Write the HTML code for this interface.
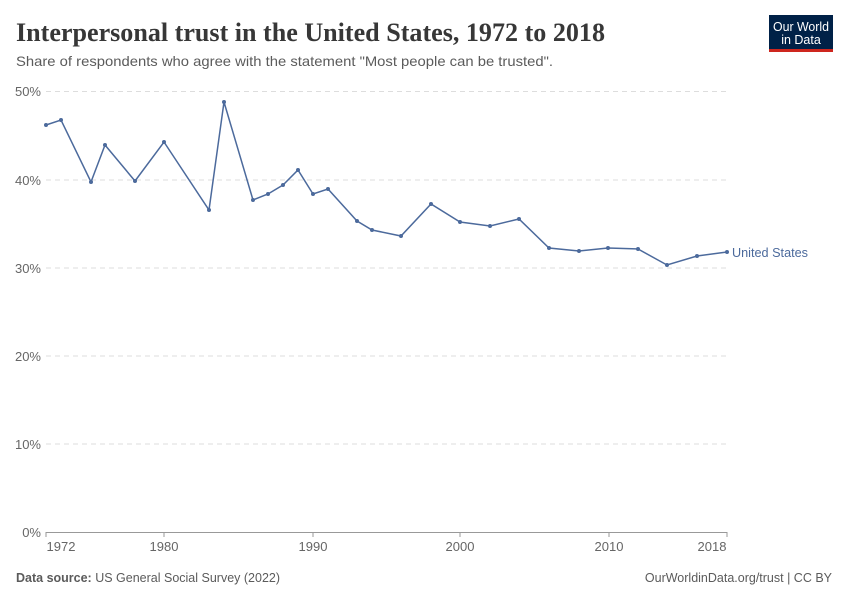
<!DOCTYPE html>
<html><head><meta charset="utf-8"><style>
body{margin:0;background:#fff;width:850px;height:600px;overflow:hidden;font-family:"Liberation Sans",sans-serif}
</style></head><body>
<svg width="850" height="600" xmlns="http://www.w3.org/2000/svg">
<text x="16" y="41" font-family="Liberation Serif,serif" font-size="26" font-weight="bold" fill="#373737" textLength="589" lengthAdjust="spacingAndGlyphs">Interpersonal trust in the United States, 1972 to 2018</text>
<text x="16" y="66" font-size="14" fill="#5b5b5b" textLength="537" lengthAdjust="spacingAndGlyphs">Share of respondents who agree with the statement "Most people can be trusted".</text>
<rect x="769" y="15" width="64" height="34" fill="#002147"/>
<rect x="769" y="49" width="64" height="3" fill="#ce261e"/>
<text x="801" y="31" font-size="12.5" fill="#fff" text-anchor="middle" textLength="56" lengthAdjust="spacingAndGlyphs">Our World</text>
<text x="801" y="44" font-size="12.5" fill="#fff" text-anchor="middle">in Data</text>
<g stroke="#ddd" stroke-dasharray="5,4" stroke-width="1">
<line x1="46" x2="727" y1="91.5" y2="91.5"/><line x1="46" x2="727" y1="180" y2="180"/><line x1="46" x2="727" y1="268" y2="268"/><line x1="46" x2="727" y1="356" y2="356"/><line x1="46" x2="727" y1="444" y2="444"/>
</g>
<line x1="46" x2="727" y1="532.5" y2="532.5" stroke="#999"/>
<g font-size="13" fill="#666" text-anchor="end">
<text x="41" y="96">50%</text><text x="41" y="185">40%</text><text x="41" y="273">30%</text><text x="41" y="361">20%</text><text x="41" y="449">10%</text><text x="41" y="537">0%</text>
</g>
<g stroke="#999"><line x1="46" x2="46" y1="532" y2="537"/><line x1="164" x2="164" y1="532" y2="537"/><line x1="313" x2="313" y1="532" y2="537"/><line x1="460" x2="460" y1="532" y2="537"/><line x1="609" x2="609" y1="532" y2="537"/><line x1="727" x2="727" y1="532" y2="537"/></g>
<g font-size="13" fill="#666" text-anchor="middle">
<text x="61" y="551">1972</text><text x="164" y="551">1980</text><text x="313" y="551">1990</text><text x="460" y="551">2000</text><text x="609" y="551">2010</text><text x="712" y="551">2018</text>
</g>
<polyline fill="none" stroke="#4c6a9c" stroke-width="1.5" points="46,125 61,120 91,182 105,145 135,181 164,142 209,210 224,102 253,200 268,194 283,185 298,170 313,194 328,189 357,221 372,230 401,236 431,204 460,222 490,226 519,219 549,248 579,251 608,248 638,249 667,265 697,256 727,252"/>
<g fill="#4c6a9c">
<circle cx="46" cy="125" r="2"/><circle cx="61" cy="120" r="2"/><circle cx="91" cy="182" r="2"/><circle cx="105" cy="145" r="2"/><circle cx="135" cy="181" r="2"/><circle cx="164" cy="142" r="2"/><circle cx="209" cy="210" r="2"/><circle cx="224" cy="102" r="2"/><circle cx="253" cy="200" r="2"/><circle cx="268" cy="194" r="2"/><circle cx="283" cy="185" r="2"/><circle cx="298" cy="170" r="2"/><circle cx="313" cy="194" r="2"/><circle cx="328" cy="189" r="2"/><circle cx="357" cy="221" r="2"/><circle cx="372" cy="230" r="2"/><circle cx="401" cy="236" r="2"/><circle cx="431" cy="204" r="2"/><circle cx="460" cy="222" r="2"/><circle cx="490" cy="226" r="2"/><circle cx="519" cy="219" r="2"/><circle cx="549" cy="248" r="2"/><circle cx="579" cy="251" r="2"/><circle cx="608" cy="248" r="2"/><circle cx="638" cy="249" r="2"/><circle cx="667" cy="265" r="2"/><circle cx="697" cy="256" r="2"/><circle cx="727" cy="252" r="2"/>
</g>
<text x="732" y="257" font-size="13" fill="#4c6a9c" textLength="76" lengthAdjust="spacingAndGlyphs">United States</text>
<text x="16" y="582" font-size="12.5" fill="#5b5b5b"><tspan font-weight="bold">Data source:</tspan> US General Social Survey (2022)</text>
<text x="832" y="582" font-size="12.5" fill="#5b5b5b" text-anchor="end">OurWorldinData.org/trust | CC BY</text>
</svg>
</body></html>
